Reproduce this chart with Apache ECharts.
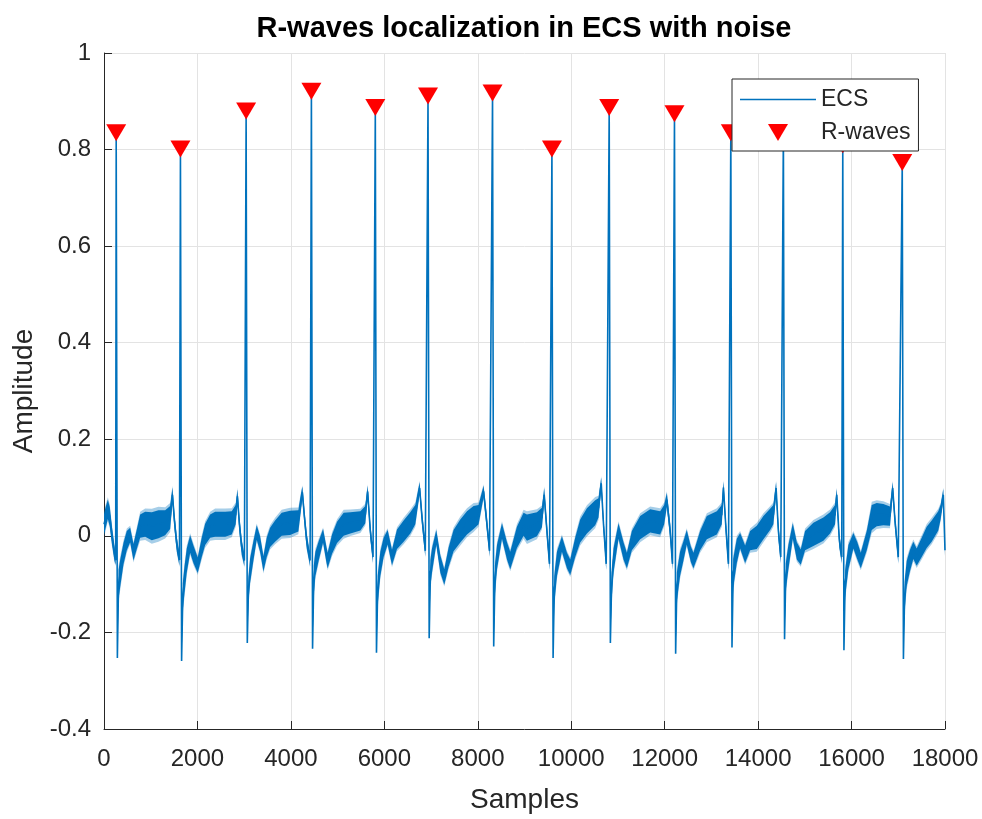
<!DOCTYPE html>
<html>
<head>
<meta charset="utf-8">
<script src="https://cdn.jsdelivr.net/npm/echarts@6/dist/echarts.min.js"></script>
<style>
  html, body { margin: 0; padding: 0; background: #fff; }
  #chart { width: 982px; height: 819px; }
</style>
</head>
<body>
<div id="chart"></div>
<script>
// ---- Data ----
// Waypoints of the ECS trace (sample index, amplitude) and the half-thickness of its noise band
const sampleIdx = [
  0, 25, 82, 124, 167, 225, 250, 261, 286, 311, 346, 417, 488, 560, 631, 702, 774, 881, 1023, 1166, 1309, 1416, 1465, 1508, 1557, 1615,
  1636, 1661, 1686, 1722, 1771, 1844, 1914, 2006, 2092, 2165, 2272, 2379, 2593, 2734, 2819, 2856, 2898, 2948, 3005,
  3042, 3067, 3092, 3127, 3198, 3269, 3341, 3412, 3483, 3555, 3662, 3803, 3983, 4160, 4218, 4246, 4289, 4338, 4411,
  4439, 4464, 4489, 4524, 4595, 4689, 4759, 4787, 4881, 4988, 5129, 5273, 5487, 5593, 5643, 5700, 5758,
  5807, 5832, 5857, 5914, 5985, 6071, 6164, 6271, 6413, 6556, 6663, 6755, 6806, 6877,
  6935, 6960, 6985, 7020, 7112, 7198, 7283, 7376, 7482, 7626, 7769, 7910, 8017, 8124, 8182, 8252,
  8316, 8341, 8366, 8411, 8518, 8625, 8695, 8838, 8980, 9052, 9266, 9373, 9422, 9480, 9535,
  9587, 9612, 9637, 9694, 9801, 9908, 9979, 10085, 10192, 10336, 10513, 10584, 10642, 10691, 10749,
  10813, 10838, 10863, 10905, 11012, 11119, 11191, 11298, 11476, 11690, 11904, 11989, 12047, 12118, 12167,
  12210, 12235, 12260, 12329, 12402, 12473, 12560, 12616, 12759, 12902, 13116, 13223, 13258, 13315, 13365,
  13416, 13441, 13466, 13544, 13615, 13722, 13829, 13972, 14114, 14257, 14327, 14385, 14434, 14485,
  14541, 14566, 14591, 14648, 14742, 14828, 14913, 15005, 15183, 15397, 15540, 15647, 15683, 15739, 15790,
  15812, 15837, 15862, 15932, 16039, 16124, 16197, 16325, 16432, 16539, 16680, 16823, 16880, 16930, 17000,
  17085, 17110, 17135, 17180, 17251, 17322, 17394, 17501, 17608, 17715, 17856, 17908, 17964, 18000
];
const ecsValue = [
  0.024, 0.034, 0.055, 0.04, 0.003, -0.037, -0.05, 0.835, -0.253, -0.10, -0.078, -0.037, -0.01, 0.002, -0.034, -0.007, 0.02, 0.024, 0.02, 0.024, 0.027, 0.038, 0.085, 0.031, -0.017, -0.05,
  0.801, -0.259, -0.126, -0.092, -0.051, -0.017, -0.038, -0.061, -0.024, 0.003, 0.02, 0.024, 0.024, 0.027, 0.044, 0.082, 0.024, -0.024, -0.051,
  0.880, -0.222, -0.11, -0.072, -0.031, 0.007, -0.017, -0.058, -0.024, -0.003, 0.01, 0.024, 0.027, 0.031, 0.072, 0.09, 0.04, -0.01, -0.051,
  0.921, -0.234, -0.092, -0.058, -0.031, 0, -0.038, -0.051, -0.017, 0.007, 0.024, 0.027, 0.031, 0.044, 0.092, 0.01, -0.044,
  0.887, -0.242, -0.113, -0.058, -0.024, -0.003, -0.045, -0.007, 0.01, 0.027, 0.044, 0.099, 0.038, -0.031,
  0.911, -0.212, -0.078, -0.051, -0.003, -0.058, -0.085, -0.044, -0.01, 0.01, 0.027, 0.038, 0.044, 0.092, 0.038, -0.031,
  0.917, -0.229, -0.092, -0.044, 0.01, -0.031, -0.051, -0.003, 0.024, 0.017, 0.024, 0.038, 0.085, 0.01, -0.058,
  0.801, -0.253, -0.113, -0.058, -0.017, -0.051, -0.065, -0.024, 0.01, 0.031, 0.048, 0.058, 0.109, 0.024, -0.058,
  0.887, -0.222, -0.106, -0.051, 0.01, -0.031, -0.051, -0.01, 0.017, 0.031, 0.027, 0.044, 0.075, 0.01, -0.058,
  0.874, -0.244, -0.106, -0.058, -0.031, -0.003, -0.038, -0.051, -0.01, 0.017, 0.027, 0.044, 0.1, 0.01, -0.058,
  0.835, -0.231, -0.078, -0.031, -0.01, -0.038, -0.01, -0.003, 0.017, 0.034, 0.044, 0.099, 0.01, -0.044,
  0.84, -0.214, -0.085, -0.044, 0.01, -0.031, -0.044, -0.01, 0.003, 0.014, 0.027, 0.044, 0.085, -0.01, -0.044,
  0.81, -0.237, -0.099, -0.044, -0.01, -0.031, -0.051, -0.01, 0.038, 0.044, 0.044, 0.041, 0.099, 0.031, -0.044,
  0.773, -0.255, -0.126, -0.078, -0.051, -0.03, -0.044, -0.024, -0.003, 0.01, 0.031, 0.05, 0.085, -0.03
];
const noiseHalfWidth = [
  0.02, 0.022, 0.02, 0.02, 0.018, 0.015, 0.01, 0, 0, 0.03, 0.028, 0.022, 0.02, 0.015, 0.017, 0.02, 0.024, 0.026, 0.029, 0.029, 0.026, 0.024, 0.015, 0.015, 0.015, 0.012,
  0, 0, 0.028, 0.028, 0.025, 0.018, 0.018, 0.016, 0.02, 0.022, 0.024, 0.026, 0.026, 0.024, 0.02, 0.014, 0.015, 0.015, 0.012,
  0, 0, 0.025, 0.025, 0.02, 0.015, 0.016, 0.016, 0.02, 0.02, 0.022, 0.024, 0.025, 0.022, 0.016, 0.012, 0.014, 0.015, 0.012,
  0, 0, 0.03, 0.025, 0.02, 0.014, 0.016, 0.016, 0.02, 0.022, 0.024, 0.022, 0.02, 0.018, 0.012, 0.015, 0.012,
  0, 0, 0.03, 0.025, 0.02, 0.015, 0.016, 0.02, 0.022, 0.022, 0.02, 0.012, 0.014, 0.012,
  0, 0, 0.028, 0.025, 0.015, 0.018, 0.016, 0.02, 0.022, 0.024, 0.024, 0.024, 0.02, 0.012, 0.014, 0.012,
  0, 0, 0.03, 0.025, 0.016, 0.018, 0.018, 0.022, 0.024, 0.027, 0.025, 0.02, 0.014, 0.015, 0.012,
  0, 0, 0.03, 0.025, 0.016, 0.016, 0.016, 0.02, 0.024, 0.026, 0.026, 0.02, 0.012, 0.014, 0.012,
  0, 0, 0.03, 0.025, 0.016, 0.018, 0.016, 0.02, 0.024, 0.024, 0.024, 0.02, 0.014, 0.015, 0.012,
  0, 0, 0.03, 0.025, 0.02, 0.015, 0.016, 0.016, 0.02, 0.024, 0.024, 0.02, 0.012, 0.015, 0.012,
  0, 0, 0.03, 0.025, 0.016, 0.018, 0.02, 0.024, 0.024, 0.022, 0.02, 0.012, 0.015, 0.012,
  0, 0, 0.028, 0.025, 0.016, 0.018, 0.016, 0.02, 0.024, 0.024, 0.022, 0.02, 0.012, 0.014, 0.012,
  0, 0, 0.028, 0.025, 0.016, 0.018, 0.016, 0.02, 0.026, 0.024, 0.022, 0.02, 0.012, 0.014, 0.012,
  0, 0, 0.03, 0.026, 0.022, 0.018, 0.018, 0.02, 0.022, 0.022, 0.02, 0.015, 0.012, 0.01
];
// Detected R-waves
const rPeakSamples = [261, 1636, 3042, 4439, 5807, 6935, 8316, 9587, 10813, 12210, 13416, 14541, 15812, 17085];
const rPeakValues  = [0.835, 0.801, 0.880, 0.921, 0.887, 0.911, 0.917, 0.801, 0.887, 0.874, 0.835, 0.84, 0.81, 0.773];
// Axes
const xTickStep = 2000, xMin = 0, xMax = 18000;
const yTickStep = 0.2, yMin = -0.4, yMax = 1;
const titleText = 'R-waves localization in ECS with noise';
const xName = 'Samples', yName = 'Amplitude';
const seriesNames = ['ECS', 'R-waves'];

// ---- Build options ----
const BLUE = '#0072BD';
const TXT = '#262626';
const FONT = '"Liberation Sans", Arial, Helvetica, sans-serif';

const ecsData = sampleIdx.map((s, i) => [s, ecsValue[i]]);
const rData = rPeakSamples.map((s, i) => [s, rPeakValues[i]]);

function bandPoints(api, scale) {
  const pts = [];
  for (let i = 0; i < sampleIdx.length; i++) {
    pts.push(api.coord([sampleIdx[i], ecsValue[i] + noiseHalfWidth[i] * scale]));
  }
  for (let i = sampleIdx.length - 1; i >= 0; i--) {
    pts.push(api.coord([sampleIdx[i], ecsValue[i] - noiseHalfWidth[i] * scale]));
  }
  return pts;
}
function renderNoiseBand(params, api) {
  return {
    type: 'group',
    children: [
      { type: 'polygon', shape: { points: bandPoints(api, 1.25) }, style: { fill: BLUE, opacity: 0.35 } },
      { type: 'polygon', shape: { points: bandPoints(api, 1) }, style: { fill: BLUE } }
    ]
  };
}

const chart = echarts.init(document.getElementById('chart'), null, { renderer: 'canvas' });
chart.setOption({
  animation: false,
  backgroundColor: '#fff',
  textStyle: { fontFamily: FONT },
  title: {
    text: titleText,
    left: 524, top: 14, padding: 0,
    textAlign: 'center',
    textStyle: { fontFamily: FONT, fontSize: 29, fontWeight: 'bold', color: '#000' }
  },
  grid: { left: 104, right: 37, top: 53, bottom: 82, containLabel: false },
  xAxis: {
    type: 'value', min: xMin, max: xMax, interval: xTickStep,
    name: xName, nameLocation: 'middle', nameGap: 57,
    nameTextStyle: { fontFamily: FONT, fontSize: 28, color: TXT },
    axisLine: { show: true, onZero: false, lineStyle: { color: TXT, width: 1 } },
    axisTick: { show: true, inside: true, length: 8, lineStyle: { color: TXT } },
    axisLabel: { fontFamily: FONT, fontSize: 24, color: TXT, margin: 18, formatter: v => String(v) },
    splitLine: { show: true, lineStyle: { color: '#e3e3e3', width: 1 } }
  },
  yAxis: {
    type: 'value', min: yMin, max: yMax, interval: yTickStep,
    name: yName, nameLocation: 'middle', nameGap: 62,
    nameTextStyle: { fontFamily: FONT, fontSize: 28, color: TXT },
    axisLine: { show: true, onZero: false, lineStyle: { color: TXT, width: 1 } },
    axisTick: { show: true, inside: true, length: 8, lineStyle: { color: TXT } },
    axisLabel: { fontFamily: FONT, fontSize: 24, color: TXT, margin: 13,
      formatter: v => String(Math.round(v * 10) / 10) },
    splitLine: { show: true, lineStyle: { color: '#e3e3e3', width: 1 } }
  },
  legend: {
    data: [
      { name: seriesNames[0], icon: 'path://M0,0 L100,0 L100,2 L0,2 Z' },
      { name: seriesNames[1], icon: 'path://M0,0 L20,0 L10,17 Z' }
    ],
    orient: 'vertical', left: 732, top: 79,
    itemWidth: 76, itemHeight: 17, itemGap: 10,
    symbolKeepAspect: true,
    padding: [9, 8, 7, 8],
    backgroundColor: '#fff', borderColor: TXT, borderWidth: 1, borderRadius: 0,
    textStyle: { fontFamily: FONT, fontSize: 23, color: TXT },
    selectedMode: false
  },
  series: [
    {
      name: 'noise', type: 'custom', silent: true, clip: true, z: 1,
      data: [[xMin, 0]], encode: { x: 0, y: 1 },
      renderItem: renderNoiseBand
    },
    {
      name: seriesNames[0], type: 'line', data: ecsData,
      symbol: 'none', showSymbol: false,
      lineStyle: { color: BLUE, width: 1.6 }, itemStyle: { color: BLUE }, z: 2
    },
    {
      name: seriesNames[1], type: 'scatter', data: rData,
      symbol: 'triangle', symbolRotate: 180, symbolSize: [20, 17],
      itemStyle: { color: '#ff0000', opacity: 1 }, z: 3
    }
  ]
});
</script>
</body>
</html>
